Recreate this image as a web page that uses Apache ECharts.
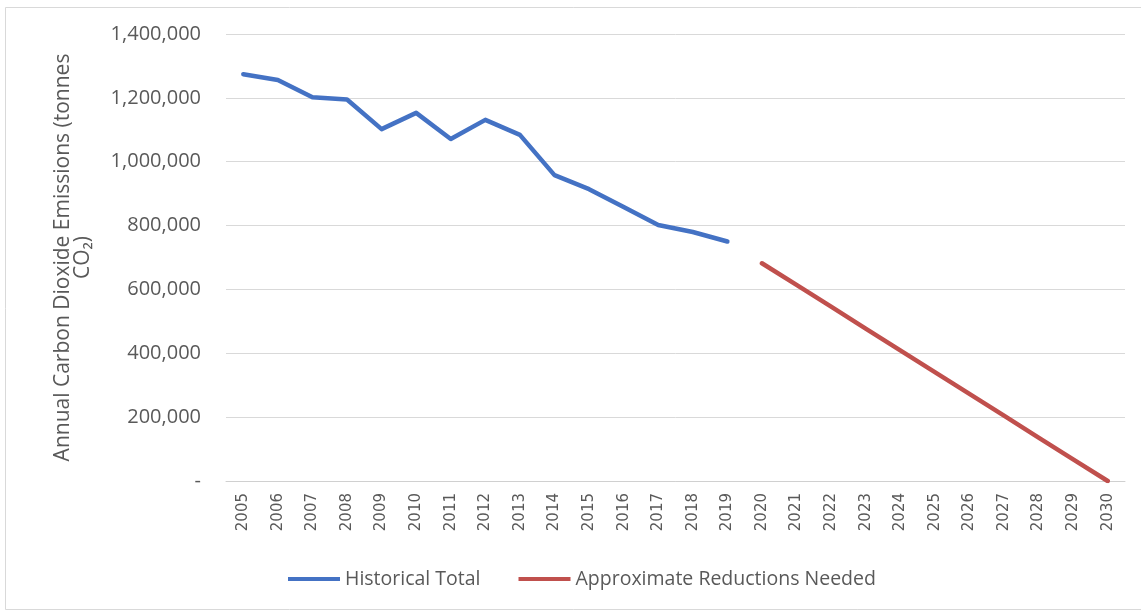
<!DOCTYPE html>
<html>
<head>
<meta charset="utf-8">
<script src="https://cdn.jsdelivr.net/npm/echarts@6/dist/echarts.min.js"></script>
<style>
  html, body { margin: 0; padding: 0; background: #ffffff; }
  #chart { width: 1141px; height: 613px; }
</style>
</head>
<body>
<div id="chart"></div>
<script>
// Years on the category axis
const years = ['2005','2006','2007','2008','2009','2010','2011','2012','2013',
  '2014','2015','2016','2017','2018','2019','2020','2021','2022','2023','2024',
  '2025','2026','2027','2028','2029','2030'];

// Recorded annual emissions, 2005-2019 (tonnes CO2)
const historicalTotal = [1274000, 1256000, 1202000, 1195000, 1102000, 1153000,
  1071000, 1131000, 1084000, 958000, 914000, 858000, 802000, 780000, 750000];

// Target pathway, 2020-2030 (tonnes CO2)
const reductionsNeeded = [682000, 614000, 546000, 477000, 409000, 341000,
  273000, 205000, 136000, 68000, 0];

// Y axis ticks
const yTicks = [0, 200000, 400000, 600000, 800000, 1000000, 1200000, 1400000];

const seriesNames = ['Historical Total', 'Approximate Reductions Needed'];
const axisTitle = 'Annual Carbon Dioxide Emissions (tonnes\nCO\u2082)';

// Align each series with the year list
const histData = years.map((y, i) => i < historicalTotal.length ? historicalTotal[i] : null);
const offset = years.indexOf('2020');
const redData = years.map((y, i) => i >= offset ? reductionsNeeded[i - offset] : null);

const fontFamily = '"Open Sans", "Noto Sans", sans-serif';
const textGrey = '#595959';

const chart = echarts.init(document.getElementById('chart'), null, { renderer: 'canvas' });

chart.setOption({
  backgroundColor: '#ffffff',
  animation: false,
  graphic: [{
    type: 'rect',
    shape: { x: 5.5, y: 7.5, width: 1140, height: 602 },
    style: { fill: 'none', stroke: '#d9d9d9', lineWidth: 1 },
    silent: true
  }],
  grid: { left: 226, right: 16, top: 34, bottom: 132 },
  legend: {
    data: seriesNames,
    top: 564,
    left: 283,
    icon: 'rect',
    itemWidth: 52,
    itemHeight: 4,
    itemGap: 38,
    textStyle: { color: textGrey, fontSize: 19.5, fontFamily: fontFamily }
  },
  xAxis: {
    type: 'category',
    data: years,
    boundaryGap: true,
    axisLine: { lineStyle: { color: '#d0d0d0', width: 1 } },
    axisTick: { show: false },
    axisLabel: {
      rotate: 90,
      margin: 12,
      interval: 0,
      color: textGrey,
      fontSize: 15,
      fontFamily: '"DejaVu Sans", sans-serif'
    }
  },
  yAxis: {
    type: 'value',
    min: yTicks[0],
    max: yTicks[yTicks.length - 1],
    interval: yTicks[1] - yTicks[0],
    name: axisTitle,
    nameLocation: 'middle',
    nameRotate: 90,
    nameGap: 133,
    nameTextStyle: {
      color: textGrey,
      fontSize: 21,
      fontFamily: fontFamily,
      align: 'center',
      lineHeight: 20
    },
    axisLine: { show: false },
    axisTick: { show: false },
    splitLine: { lineStyle: { color: '#d9d9d9', width: 1 } },
    axisLabel: {
      margin: 25,
      color: textGrey,
      fontSize: 20,
      fontFamily: fontFamily,
      formatter: v => v === 0 ? '-' : v.toLocaleString('en-US')
    }
  },
  series: [{
    name: seriesNames[0],
    type: 'line',
    data: histData,
    showSymbol: false,
    symbol: 'none',
    connectNulls: false,
    color: '#4472c4',
    lineStyle: { width: 4.5, color: '#4472c4', join: 'round', cap: 'round' }
  }, {
    name: seriesNames[1],
    type: 'line',
    data: redData,
    showSymbol: false,
    symbol: 'none',
    connectNulls: false,
    color: '#c0504d',
    lineStyle: { width: 4.5, color: '#c0504d', join: 'round', cap: 'round' }
  }]
});
</script>
</body>
</html>
